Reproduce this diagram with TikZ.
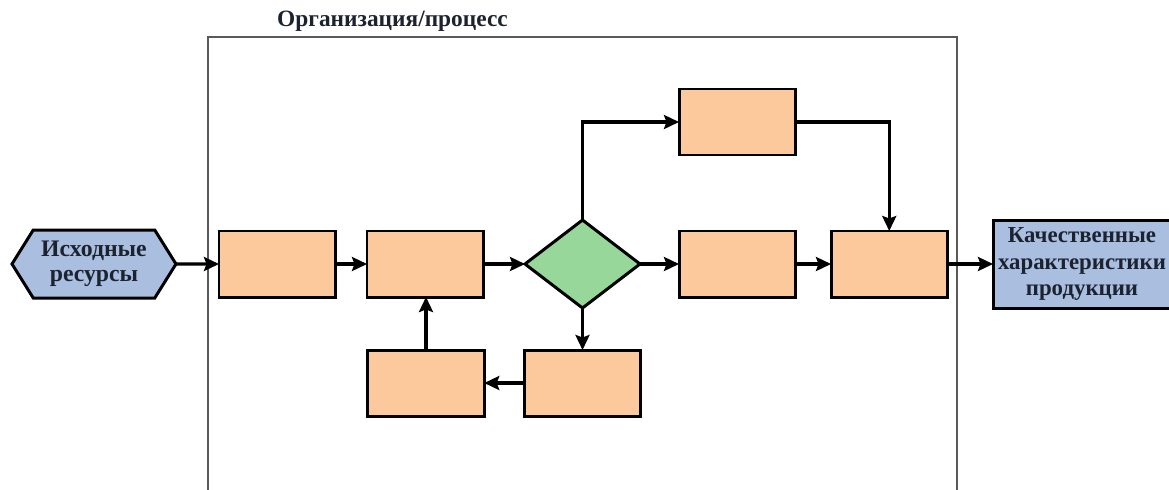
\documentclass[tikz,border=0pt]{standalone}
\usepackage{fontspec}
\setmainfont{Liberation Serif}
\usepackage{tikz}
\usetikzlibrary{arrows.meta,positioning,shapes.geometric,shapes.symbols}
\definecolor{peach}{HTML}{FBC99B}
\definecolor{mint}{HTML}{98D79A}
\definecolor{steel}{HTML}{AABFE0}
\definecolor{ink}{HTML}{1C2230}

\begin{document}
\begin{tikzpicture}[node distance=0.8cm]
      \tikzstyle{blk}=[rectangle,draw,line width=1.7pt,outer sep=0pt,fill=peach,minimum width=2.33cm,minimum height=1.32cm,inner sep=0pt]
      \tikzstyle{io}=[draw,line width=1.7pt,outer sep=0pt,fill=steel,text=ink,font=\bfseries\fontsize{13.5}{14.5}\selectfont,align=center,inner sep=0pt]
      \tikzstyle{arr}=[line width=1.8pt,-{Stealth[length=3mm,width=2.8mm,inset=0.5mm]}]
      \path[use as bounding box,clip] (0,0) rectangle (23.38,-9.78);
      % frame of the organisation, open at the bottom
      \draw[line width=0.9pt,black!65] (4.16,-9.9) -- (4.16,-0.74) -- (19.14,-0.74) -- (19.14,-9.9);
      \node[font=\bfseries\fontsize{13.3}{15}\selectfont,text=ink] (title) at (7.85,-0.42) {Организация/процесс};
      \node[io,signal,signal to=west and east,signal pointer angle=116,minimum width=3.28cm,minimum height=1.36cm] (src) at (1.88,-5.28) {Исходные\\ресурсы};
      \node[blk,right=0.86cm of src] (a) {};
      \node[blk,right=0.63cm of a] (b) {};
      \node[diamond,draw,line width=1.7pt,outer sep=0pt,fill=mint,minimum width=2.3cm,minimum height=1.76cm,inner sep=0pt,right=0.83cm of b] (dec) {};
      \node[blk,right=0.78cm of dec] (c) {};
      \node[blk,above=1.52cm of c] (d) {};
      \node[blk,right=0.71cm of c] (e) {};
      \node[io,rectangle,minimum width=3.56cm,minimum height=1.76cm,font=\bfseries\fontsize{13}{15}\selectfont,right=0.91cm of e] (out) {Качественные\\характеристики\\продукции};
      \node[blk,below=0.84cm of dec] (f) {};
      \node[blk,left=0.8cm of f] (g) {};
      \draw[arr] (src) -- (a);
      \draw[arr] (a) -- (b);
      \draw[arr] (b) -- (dec);
      \draw[arr] (dec) -- (c);
      \draw[arr] (c) -- (e);
      \draw[arr] (e) -- (out);
      \draw[arr] (dec.north) |- (d.west);
      \draw[arr] (d.east) -| (e.north);
      \draw[arr] (dec.south) -- (f.north -| dec.south);
      \draw[arr] (f) -- (g);
      \draw[arr] (g.north) -- (g.north |- b.south);
    \end{tikzpicture}
\end{document}
